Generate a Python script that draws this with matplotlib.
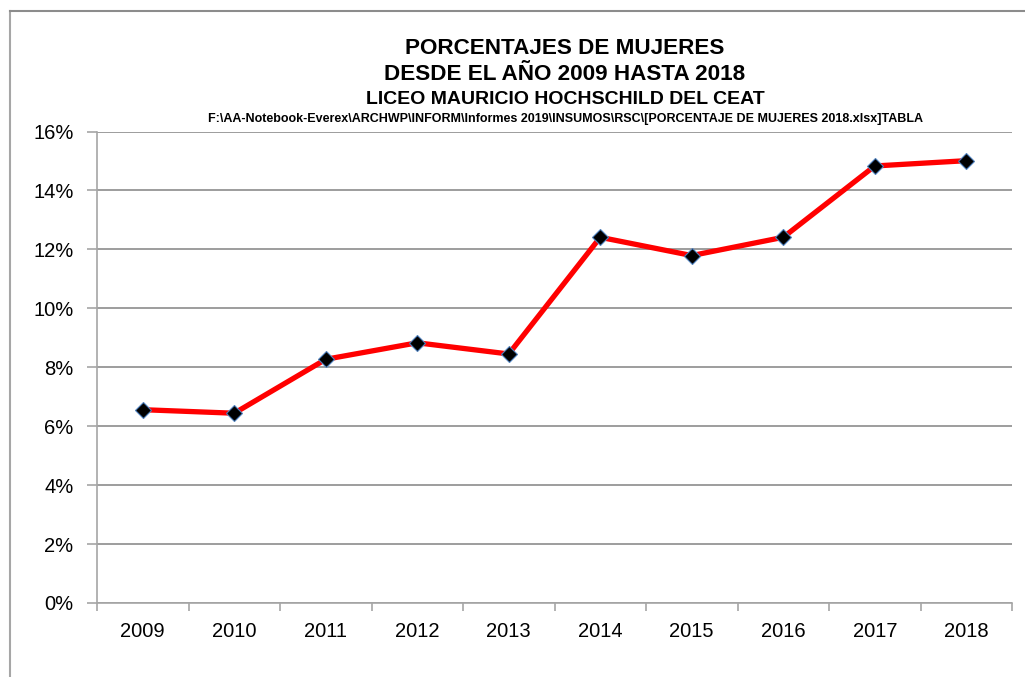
import matplotlib.pyplot as plt
from matplotlib.lines import Line2D
from matplotlib.ticker import FuncFormatter, FixedLocator, NullFormatter

plt.rcParams['font.family'] = ['Liberation Sans', 'DejaVu Sans']

years = ['2009', '2010', '2011', '2012', '2013', '2014', '2015', '2016', '2017', '2018']
porcentaje = [6.56, 6.44, 8.27, 8.83, 8.45, 12.41, 11.79, 12.41, 14.83, 15.01]

fig = plt.figure(figsize=(10.25, 6.77), dpi=100)
ax = fig.add_axes([97 / 1025, 1 - 603 / 677, (1012 - 97) / 1025, (603 - 131.5) / 677])

x = list(range(len(years)))
ax.plot(x, porcentaje, color='#ff0000', lw=3.8, zorder=3,
        marker='D', markersize=8, markerfacecolor='black',
        markeredgecolor='#4f81bd', markeredgewidth=0.8)

ax.set_xlim(-0.5, len(years) - 0.5)
ax.set_ylim(0, 16)
ax.set_yticks(range(0, 17, 2))
ax.yaxis.set_major_formatter(FuncFormatter(lambda v, p: f'{v:.0f}%'))
ax.yaxis.grid(True, color='#8c8c8c', lw=1.2)
ax.set_axisbelow(True)

ax.set_xticks(x)
ax.set_xticklabels(years)
ax.xaxis.set_minor_locator(FixedLocator([i - 0.5 for i in range(len(years) + 1)]))
ax.xaxis.set_minor_formatter(NullFormatter())
ax.tick_params(axis='x', which='major', length=0, pad=14, labelsize=14.5)
ax.tick_params(axis='x', which='minor', length=6, color='#a6a6a6', width=1.2, direction='out')
ax.tick_params(axis='y', length=7, color='#a6a6a6', width=1.2, pad=10, labelsize=14.5)

for s in ['top', 'right']:
    ax.spines[s].set_visible(False)
for s in ['left', 'bottom']:
    ax.spines[s].set_color('#a6a6a6')
    ax.spines[s].set_linewidth(1.2)

cx = 565 / 1025
fig.text(cx, 1 - 48 / 677, 'PORCENTAJES DE MUJERES', ha='center', va='center',
         fontsize=16.2, fontweight='bold')
fig.text(cx, 1 - 75 / 677, 'DESDE EL AÑO 2009 HASTA 2018', ha='center', va='center',
         fontsize=16.2, fontweight='bold')
fig.text(cx, 1 - 100 / 677, 'LICEO MAURICIO HOCHSCHILD DEL CEAT', ha='center', va='center',
         fontsize=14, fontweight='bold')
fig.text(cx, 1 - 119 / 677,
         'F:\\AA-Notebook-Everex\\ARCHWP\\INFORM\\Informes 2019\\INSUMOS\\RSC\\[PORCENTAJE DE MUJERES 2018.xlsx]TABLA',
         ha='center', va='center', fontsize=9, fontweight='bold')

# chart area border (top and left edges)
fig.add_artist(Line2D([10 / 1025, 10 / 1025], [0, 1 - 11 / 677], color='#a6a6a6', lw=1.5,
                      transform=fig.transFigure))
fig.add_artist(Line2D([10 / 1025, 1], [1 - 11 / 677, 1 - 11 / 677], color='#8c8c8c', lw=1.5,
                      transform=fig.transFigure))

fig.savefig('out.png', dpi=100)
